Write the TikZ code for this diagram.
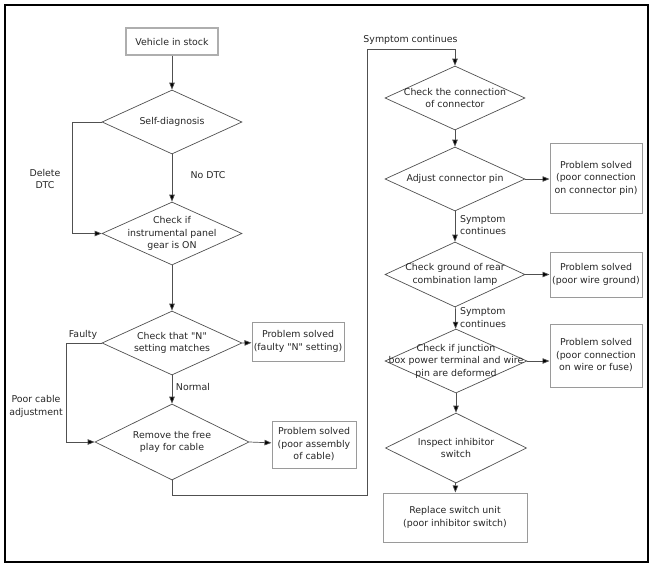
\documentclass[tikz,border=0pt]{standalone}
\usepackage{fontspec}
\setmainfont{DejaVu Sans}
\font\qfont="DejaVu Sans" at 9.4pt
\newcommand{\sq}{{\qfont"}}
\usetikzlibrary{shapes.geometric,arrows.meta}
\definecolor{lineg}{HTML}{505050}
\definecolor{boxg}{HTML}{9A9A9A}
\tikzset{
  txt/.style={font=\fontsize{9.4}{12.5}\selectfont, text=black!85, align=center, inner sep=0pt},
  dia/.style={diamond, draw=lineg, line width=0.7pt, minimum width=140pt, minimum height=64pt, inner sep=0pt},
  pbox/.style={draw=boxg, line width=1pt, inner sep=0pt, txt},
  conn/.style={draw=lineg, line width=0.7pt},
  arr/.style={conn, -{Triangle[length=7pt,width=5.5pt,fill=black]}},
  lab/.style={txt}
}
\begin{document}
\begin{tikzpicture}[x=1pt,y=-1pt]
\useasboundingbox (0,0) rectangle (657,571);
\draw[black, line width=1.3pt] (5,5) rectangle (648,562);

% left column
\node[pbox, draw=boxg!80, line width=1.3pt, minimum width=92pt, minimum height=27pt] (v) at (172,41.5) {Vehicle in stock};
\node[dia, label={[txt]center:Self-diagnosis}] (d1) at (172,122) {};
\node[dia, minimum height=63pt, label={[txt]center:{Check if\\instrumental panel\\gear is ON}}] (d2) at (172,233.5) {};
\node[dia, label={[txt]center:{Check that \sq N\sq\\setting matches}}] (d3) at (172,343) {};
\node[pbox, minimum width=92pt, minimum height=39pt] (b3) at (298,341.5) {Problem solved\\(faulty \sq N\sq\ setting)};
\node[dia, minimum width=154pt, minimum height=76pt, label={[txt]center:{Remove the free\\play for cable}}] (d4) at (172,442) {};
\node[pbox, minimum width=84pt, minimum height=47pt] (b4) at (314,444.5) {Problem solved\\(poor assembly\\of cable)};

\draw[arr] (v) -- (d1);
\draw[arr] (d1) -- (d2);
\draw[arr] (d2) -- (d3);
\draw[arr] (d3) -- (d4);
\draw[arr] (d3.east) -- (b3);
\draw[arr] (d4.east) -- (b4);
\draw[arr] (d1.west) -- ++(-29,0) |- (d2.west);
\draw[arr] (d3.west) -- ++(-35,0) |- (d4.west);

\node[lab] (l1) at (45,179) {Delete\\DTC};
\node[lab] (l2) at (208,175) {No DTC};
\node[lab] (l3) at (83,335) {Faulty};
\node[lab] (l4) at (36,406.5) {Poor cable\\adjustment};
\node[lab] (l5) at (193,387) {Normal};

% right column
\node[dia, label={[txt]center:{Check the connection\\of connector}}] (r1) at (455,98) {};
\node[dia, label={[txt]center:{Adjust connector pin}}] (r2) at (455,179) {};
\node[pbox, minimum width=92pt, minimum height=70pt] (c2) at (596,178) {Problem solved\\(poor connection\\on connector pin)};
\node[dia, minimum height=65pt, label={[txt]center:{Check ground of rear\\combination lamp}}] (r3) at (455,274.5) {};
\node[pbox, minimum width=92pt, minimum height=45pt] (c3) at (596,274.5) {Problem solved\\(poor wire ground)};
\node[dia, minimum width=142pt, label={[txt]center:{Check if junction\\box power terminal and wire\\pin are deformed}}] (r4) at (456,361) {};
\node[pbox, minimum width=92pt, minimum height=63pt] (c4) at (596,355.5) {Problem solved\\(poor connection\\on wire or fuse)};
\node[dia, minimum width=141pt, minimum height=70pt, label={[txt]center:{Inspect inhibitor\\switch}}] (r5) at (456,448) {};
\node[pbox, minimum width=144pt, minimum height=49pt] (c5) at (455,517.5) {Replace switch unit\\(poor inhibitor switch)};

\coordinate (t1) at (455,49);
\draw[conn] (d4.south) -- ++(0,15) -| (367,49) -- (t1);
\draw[arr] (t1) -- (r1.north);
\draw[arr] (r1) -- (r2);
\draw[arr] (r2) -- (r3);
\draw[arr] (r3) -- (r4);
\draw[arr] (r4) -- (r5);
\draw[arr] (r5) -- (c5);
\draw[arr] (r2.east) -- (c2.west |- r2.east);
\draw[arr] (r3.east) -- (c3.west |- r3.east);
\draw[arr] (r4.east) -- (c4.west |- r4.east);

\node[lab] (s1) at (410.5,40) {Symptom continues};
\node[lab, anchor=west, align=left] (s2) at (460,225) {Symptom\\continues};
\node[lab, anchor=west, align=left] (s3) at (460,317.5) {Symptom\\continues};
\end{tikzpicture}
\end{document}
